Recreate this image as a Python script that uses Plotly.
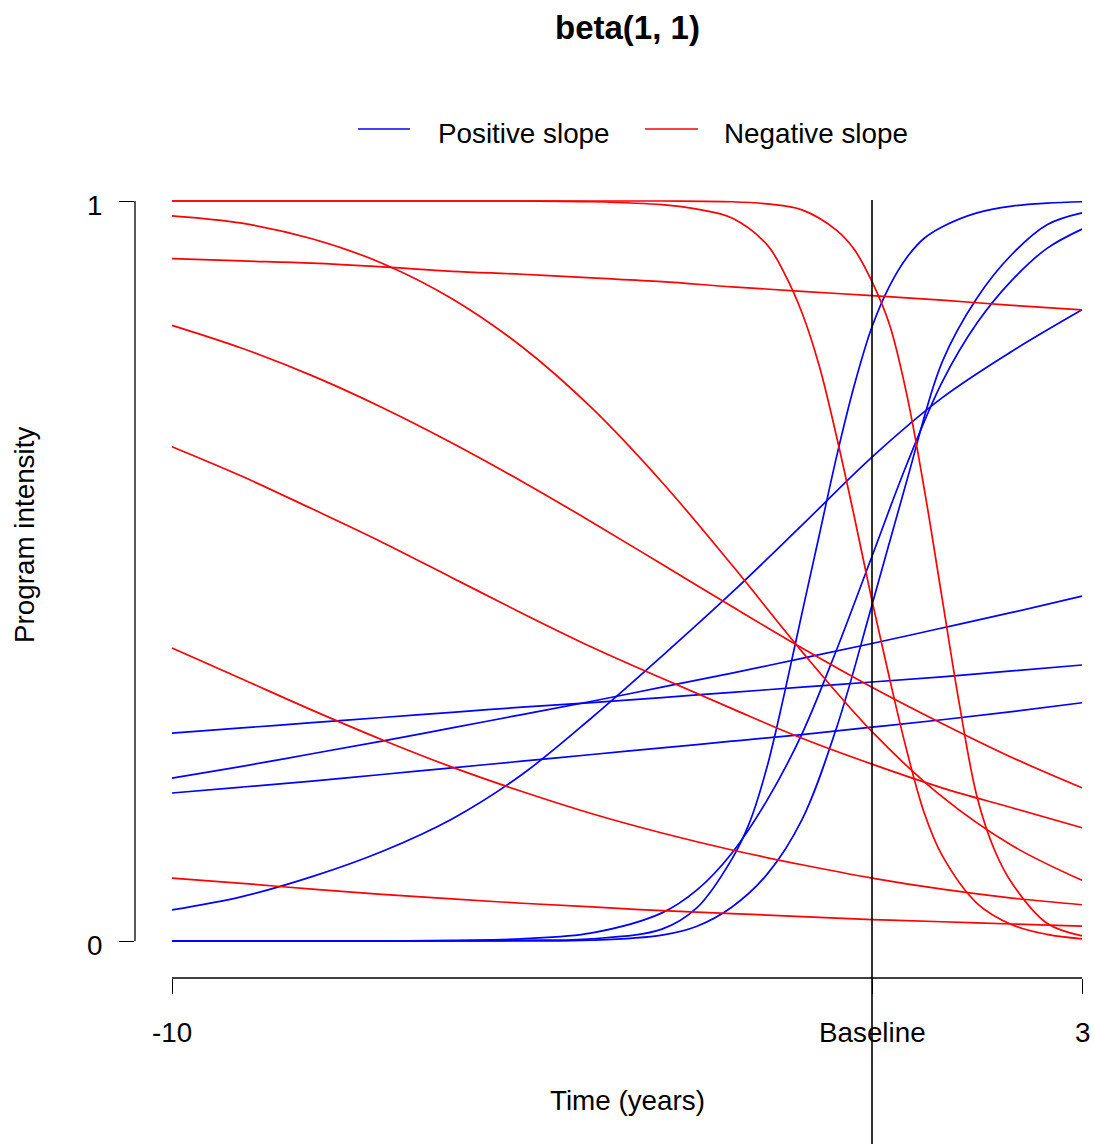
import plotly.graph_objects as go

# ---------------- data ----------------
years = [-10, -9, -8, -7, -6, -5, -4, -3, -2, -1, 0, 1, 2, 3]

# Positive-slope programs (blue)
b1_t = [-10, -6, -5, -4, -3, -2.5, -2, -1.75, -1.5, -1.25, -1, -0.75, -0.5, -0.25,
        0, 0.25, 0.5, 0.75, 1, 1.5, 2, 2.5, 3]
b1_v = [0, 0, 0.001, 0.003, 0.016, 0.045, 0.111, 0.160, 0.235, 0.335, 0.443, 0.550,
        0.657, 0.752, 0.830, 0.885, 0.924, 0.950, 0.965, 0.984, 0.993, 0.997, 0.999]

b2_t = [-10, -7, -6, -5, -4, -3, -2.5, -2, -1.5, -1, -0.5, 0, 0.5, 1, 1.5, 2, 2.5, 3]
b2_v = [0, 0, 0.001, 0.003, 0.011, 0.038, 0.069, 0.119, 0.190, 0.280, 0.395, 0.520,
        0.645, 0.755, 0.835, 0.893, 0.936, 0.962]

b3_t = [-10, -5, -4, -3, -2.5, -2, -1.5, -1, -0.5, 0, 0.5, 1, 1.5, 2, 2.5, 3]
b3_v = [0, 0, 0.001, 0.008, 0.020, 0.046, 0.090, 0.164, 0.290, 0.454, 0.623, 0.782,
        0.869, 0.928, 0.968, 0.984]

b4_v = [0.042, 0.060, 0.087, 0.121, 0.165, 0.225, 0.302, 0.385, 0.471, 0.562, 0.654, 0.734, 0.797, 0.853]
b5_v = [0.281, 0.288, 0.295, 0.302, 0.309, 0.316, 0.322, 0.329, 0.336, 0.343, 0.350, 0.357, 0.365, 0.373]
b6_v = [0.220, 0.236, 0.253, 0.270, 0.288, 0.306, 0.324, 0.343, 0.362, 0.382, 0.402, 0.423, 0.444, 0.466]
b7_v = [0.200, 0.208, 0.216, 0.225, 0.234, 0.243, 0.252, 0.261, 0.270, 0.279, 0.289, 0.299, 0.310, 0.322]

# Negative-slope programs (red)
r1_t = [-10, -5, -3, -2, -1.5, -1, -0.5, -0.25, 0, 0.25, 0.5, 0.75, 1, 1.25, 1.5, 1.75, 2, 2.5, 3]
r1_v = [1.0, 1.0, 1.0, 0.999, 0.996, 0.988, 0.960, 0.934, 0.891, 0.833, 0.737, 0.609,
        0.464, 0.319, 0.195, 0.123, 0.078, 0.024, 0.007]

r2_t = [-10, -5, -4, -3, -2.5, -2, -1.5, -1.25, -1, -0.75, -0.5, -0.25, 0, 0.25, 0.5,
        0.75, 1, 1.5, 2, 2.5, 3]
r2_v = [1.0, 1.0, 0.999, 0.995, 0.989, 0.977, 0.941, 0.902, 0.849, 0.776, 0.679, 0.572,
        0.460, 0.355, 0.256, 0.172, 0.116, 0.051, 0.022, 0.009, 0.003]

r3_v = [0.980, 0.970, 0.949, 0.916, 0.868, 0.803, 0.720, 0.620, 0.508, 0.391, 0.283, 0.195, 0.129, 0.082]
r4_v = [0.922, 0.919, 0.916, 0.911, 0.905, 0.901, 0.896, 0.891, 0.884, 0.878, 0.872, 0.866, 0.859, 0.853]
r5_v = [0.832, 0.801, 0.764, 0.721, 0.673, 0.621, 0.566, 0.509, 0.452, 0.396, 0.343, 0.294, 0.248, 0.207]
r6_v = [0.668, 0.628, 0.584, 0.539, 0.491, 0.443, 0.397, 0.355, 0.314, 0.274, 0.239, 0.207, 0.180, 0.153]
r7_v = [0.396, 0.354, 0.312, 0.272, 0.235, 0.202, 0.172, 0.146, 0.123, 0.103, 0.085, 0.070, 0.058, 0.049]
r8_v = [0.085, 0.078, 0.070, 0.063, 0.057, 0.051, 0.046, 0.041, 0.037, 0.033, 0.029, 0.026, 0.023, 0.020]

x_tickvals = [-10, 0, 3]
x_ticktext = ["-10", "Baseline", "3"]
y_tickvals = [0, 1]
y_ticktext = ["0", "1"]

blue_series = [(b1_t, b1_v), (b2_t, b2_v), (b3_t, b3_v),
               (years, b4_v), (years, b5_v), (years, b6_v), (years, b7_v)]
red_series = [(r1_t, r1_v), (r2_t, r2_v), (years, r3_v),
              (years, r4_v), (years, r5_v), (years, r6_v), (years, r7_v), (years, r8_v)]

# ---------------- layout geometry (page pixels) ----------------
PAGE_W, PAGE_H = 1094, 1144
L, R, T, B = 135, 1090, 171, 978
PX_PER_YEAR = 70.0
PX_PER_UNIT = 740.0


def px_x(p):
    return (p - L) / (R - L)


def px_y(p):
    return (B - p) / (B - T)


xr = [-10 - (172 - L) / PX_PER_YEAR, 3 + (R - 1082) / PX_PER_YEAR]
yr = [0 - (B - 941) / PX_PER_UNIT, 1 + (201 - T) / PX_PER_UNIT]

FONT = "Liberation Sans, Arial, Helvetica, sans-serif"
FS = 27.8
BLUE = "#0000FF"
RED = "#FF0000"
LW = 1.7

fig = go.Figure()
for t, v in blue_series:
    fig.add_trace(go.Scatter(x=t, y=v, mode="lines",
                             line=dict(color=BLUE, width=LW, shape="spline", smoothing=1.0),
                             showlegend=False, hoverinfo="skip"))
for t, v in red_series:
    fig.add_trace(go.Scatter(x=t, y=v, mode="lines",
                             line=dict(color=RED, width=LW, shape="spline", smoothing=1.0),
                             showlegend=False, hoverinfo="skip"))

shapes = [
    dict(type="line", xref="paper", yref="y", x0=0, x1=0, y0=0, y1=1,
         line=dict(color="black", width=1.3)),
    dict(type="line", xref="x", yref="paper", x0=-10, x1=3, y0=0, y1=0,
         line=dict(color="black", width=1.3)),
    dict(type="line", xref="x", yref="paper", x0=0, x1=0, y0=px_y(1160), y1=px_y(200),
         line=dict(color="black", width=1.6)),
    dict(type="line", xref="paper", yref="paper", x0=px_x(358), x1=px_x(410), y0=px_y(129), y1=px_y(129),
         line=dict(color=BLUE, width=LW)),
    dict(type="line", xref="paper", yref="paper", x0=px_x(645), x1=px_x(698), y0=px_y(129), y1=px_y(129),
         line=dict(color=RED, width=LW)),
]


def txt(text, x, y, xanchor="center", size=FS, **kw):
    return dict(text=text, x=px_x(x), y=px_y(y), xref="paper", yref="paper",
                xanchor=xanchor, yanchor="middle", showarrow=False,
                font=dict(family=FONT, size=size, color="black"), **kw)


annotations = [
    txt("<b>beta(1, 1)</b>", 627, 28, size=33),
    txt("Positive slope", 436, 133, xanchor="left"),
    txt("Negative slope", 722, 133, xanchor="left"),
    txt("Time (years)", 627, 1100),
    txt("Program intensity", 24, 535, textangle=-90),
]
# tick labels, placed on the axes' own coordinates
for v, s in zip(x_tickvals, x_ticktext):
    annotations.append(dict(text=s, x=v, y=px_y(1032), xref="x", yref="paper",
                            xanchor="center", yanchor="middle", showarrow=False,
                            font=dict(family=FONT, size=FS, color="black")))
for v, s in zip(y_tickvals, y_ticktext):
    annotations.append(dict(text=s, x=px_x(104), y=v, xref="paper", yref="y",
                            xanchor="right", yanchor="middle", yshift=-4, showarrow=False,
                            font=dict(family=FONT, size=FS, color="black")))

fig.update_layout(
    width=PAGE_W, height=PAGE_H,
    margin=dict(l=L, r=PAGE_W - R, t=T, b=PAGE_H - B, pad=0),
    paper_bgcolor="white", plot_bgcolor="white",
    showlegend=False,
    hovermode=False,
    shapes=shapes,
    annotations=annotations,
    font=dict(family=FONT, size=FS, color="black"),
    xaxis=dict(range=xr, tickmode="array", tickvals=x_tickvals, ticktext=x_ticktext,
               showticklabels=False,
               ticks="outside", ticklen=15, tickwidth=1.3, tickcolor="black",
               showline=False, showgrid=False, zeroline=False, automargin=False),
    yaxis=dict(range=yr, tickmode="array", tickvals=y_tickvals, ticktext=y_ticktext,
               showticklabels=False,
               ticks="outside", ticklen=15, tickwidth=1.3, tickcolor="black",
               showline=False, showgrid=False, zeroline=False, automargin=False),
)

# remove the page's default body margin so the figure sits at the window's corner
fig.write_html("out.html",
               config={"displayModeBar": False},
               post_script="document.body.style.margin='0';document.body.style.overflow='hidden';")
